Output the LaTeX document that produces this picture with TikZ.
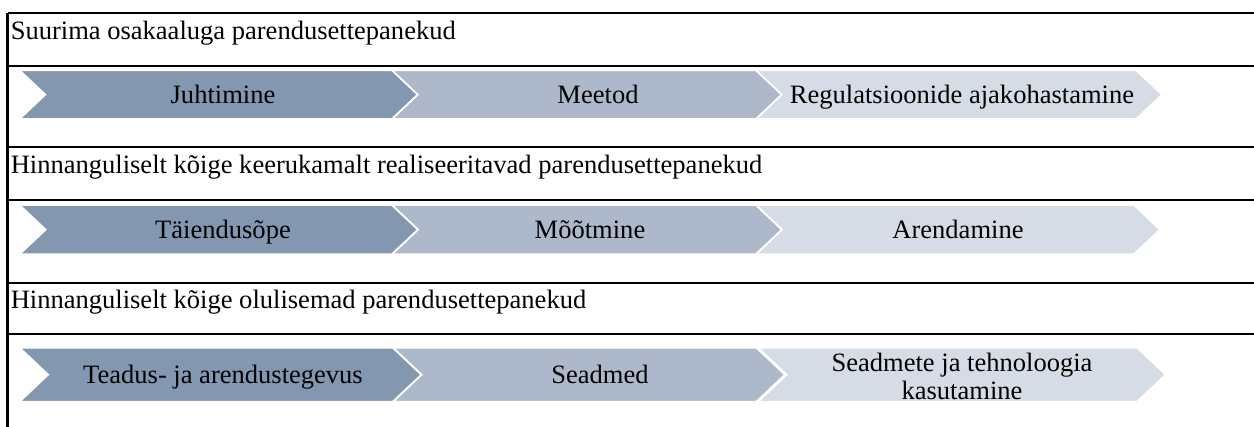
\documentclass[tikz,border=0pt]{standalone}
\usepackage{fontspec}
\setmainfont{Liberation Serif}
\definecolor{stepA}{HTML}{8497B0}
\definecolor{stepB}{HTML}{ADB9CA}
\definecolor{stepC}{HTML}{D6DCE5}
% chevron: left x, tip x, top y, bottom y, fill colour
\newcommand{\chevpath}[5]{%
  \path[chevbox, fill=#5]
    (#1,#3) -- ({#2-0.53*(#4-#3)},#3) -- (#2,{(#3+#4)/2})
    -- ({#2-0.53*(#4-#3)},#4) -- (#1,#4)
    -- ({#1+0.53*(#4-#3)},{(#3+#4)/2}) -- cycle;}
\begin{document}
\begin{tikzpicture}[x=0.75pt,y=-0.75pt,
  rule/.style={line width=1.65pt, black},
  chevbox/.style={draw=white, line width=1.3pt, line join=miter},
  hdr/.style={anchor=base west, inner sep=0pt, font=\fontsize{19.9}{22}\selectfont},
  lbl/.style={anchor=base, inner sep=0pt, font=\fontsize{19.9}{21}\selectfont, align=center},
  lbltwo/.style={anchor=center, inner sep=0pt, font=\fontsize{19.9}{21}\selectfont, align=center}]
\useasboundingbox (0,0) rectangle (1254,427);

% table rules
\draw[rule] (7.5,12.7) -- (7.5,427);
\foreach \yy in {12.7,65.7,147.3,200,282.7,334.3}
  \draw[rule] (7.5,\yy) -- (1254,\yy);

% section headings
\node[hdr] (h1) at (10.5,39.5) {Suurima osakaaluga parendusettepanekud};
\node[hdr] (h2) at (10.5,173.5) {Hinnanguliselt kõige keerukamalt realiseeritavad parendusettepanekud};
\node[hdr] (h3) at (10.5,309) {Hinnanguliselt kõige olulisemad parendusettepanekud};

% first chevron row
\chevpath{19.5}{418}{70.3}{119}{stepA}
\chevpath{392}{782}{70.3}{119}{stepB}
\chevpath{756}{1162}{70.3}{119}{stepC}
\node[lbl] (a1) at (223,103.3) {Juhtimine};
\node[lbl] (a2) at (598,103.3) {Meetod};
\node[lbl] (a3) at (962,103.3) {Regulatsioonide ajakohastamine};

% second chevron row
\chevpath{19.5}{418}{205}{254.3}{stepA}
\chevpath{392}{782}{205}{254.3}{stepB}
\chevpath{756}{1160}{205}{254.3}{stepC}
\node[lbl] (b1) at (223,238.4) {Täiendusõpe};
\node[lbl] (b2) at (590,238.4) {Mõõtmine};
\node[lbl] (b3) at (958,238.4) {Arendamine};

% third chevron row
\chevpath{19.5}{421.5}{347.7}{401.7}{stepA}
\chevpath{393}{785}{347.7}{401.7}{stepB}
\chevpath{758}{1165.7}{347.7}{401.7}{stepC}
\node[lbl] (c1) at (223,383.3) {Teadus- ja arendustegevus};
\node[lbl] (c2) at (600,383.3) {Seadmed};
\node[lbltwo] (c3) at (962,376) {Seadmete ja tehnoloogia\\kasutamine};
\end{tikzpicture}
\end{document}
